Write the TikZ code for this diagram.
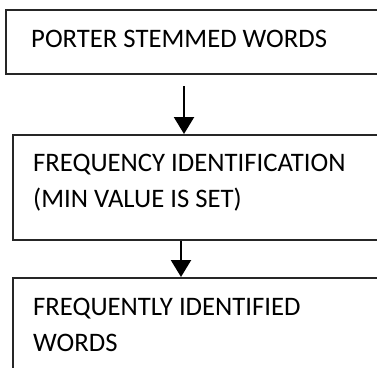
\documentclass[tikz,border=0pt]{standalone}
\usepackage{fontspec}
\setmainfont{Carlito}
\usetikzlibrary{arrows.meta}
\begin{document}
\begin{tikzpicture}[x=1pt,y=-1pt,
  box/.style={draw=black!85, line width=1.8pt, rectangle, inner sep=0pt, anchor=north west},
  txt/.style={inner sep=0pt, anchor=base west, align=left, text=black,
              font=\fontsize{26.7}{36}\selectfont},
  flow/.style={draw=black, line width=2.3pt, -{Triangle[width=20pt,length=17pt]}}]
\useasboundingbox (0,0) rectangle (377,367);
\clip (0,0) rectangle (377,367);
\node[box, minimum width=400pt, minimum height=64pt] (b1) at (5,9) {};
\node[txt] (t1) at (31,47) {PORTER STEMMED WORDS};
\node[box, minimum width=400pt, minimum height=105pt] (b2) at (12,134) {};
\node[txt] (t2) at (33,207) {FREQUENCY IDENTIFICATION\\(MIN VALUE IS SET)};
\node[box, minimum width=400pt, minimum height=120pt] (b3) at (12,277) {};
\node[txt] (t3) at (33,351) {FREQUENTLY IDENTIFIED\\WORDS};
\coordinate (a1) at (184,86);
\draw[flow] (a1) -- (a1 |- b2.north);
\draw[flow] (b2.south -| 181,0) -- (b3.north -| 181,0);
\end{tikzpicture}
\end{document}
